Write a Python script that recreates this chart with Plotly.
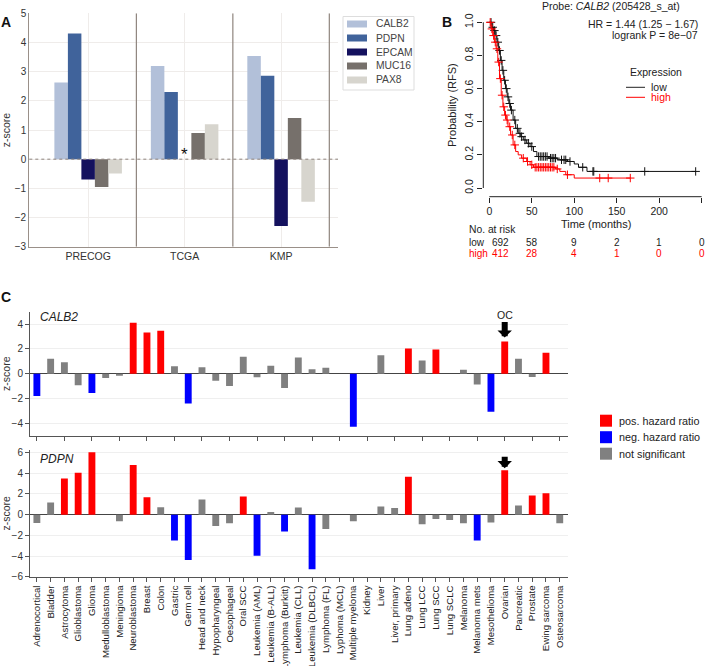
import numpy as np
import plotly.graph_objects as go

W, H = 709, 666
def fx(p): return p / W
def fy(p): return 1 - p / H

FONT = "Liberation Sans, Arial, Helvetica, sans-serif"

# ---------------- Panel A data ----------------
datasets = ["PRECOG", "TCGA", "KMP"]
genes_a = ["CALB2", "PDPN", "EPCAM", "MUC16", "PAX8"]
calb2_a = [2.63, 3.19, 3.54]
pdpn_a = [4.31, 2.30, 2.86]
epcam_a = [-0.70, 0.0, -2.29]
muc16_a = [-0.95, 0.90, 1.41]
pax8_a = [-0.49, 1.20, -1.46]
colors_a = ["#b2c0d9", "#40639b", "#14115e", "#76706b", "#d7d5ce"]

# ---------------- Panel B data (Kaplan-Meier) ----------------
km_low_t = [0, 3, 5, 7, 9, 11, 13, 15, 17, 19, 21, 23, 25, 28, 31, 34, 37, 40, 44, 48, 52, 56, 70, 80, 92, 100, 105, 115, 243]
km_low_s = [1.0, 0.97, 0.95, 0.92, 0.88, 0.83, 0.77, 0.71, 0.65, 0.60, 0.55, 0.51, 0.47, 0.41, 0.36, 0.33, 0.31, 0.29, 0.27, 0.25, 0.22, 0.19, 0.18, 0.17, 0.16, 0.145, 0.125, 0.10, 0.10]
km_high_t = [0, 2, 4, 6, 8, 10, 12, 14, 16, 18, 20, 22, 25, 28, 31, 34, 38, 44, 48, 52, 78, 83, 90, 100, 166]
km_high_s = [1.0, 0.96, 0.92, 0.88, 0.84, 0.76, 0.66, 0.56, 0.49, 0.44, 0.41, 0.37, 0.32, 0.26, 0.22, 0.20, 0.18, 0.16, 0.14, 0.125, 0.115, 0.10, 0.08, 0.06, 0.06]
cens_low = [2, 4, 6, 8, 10, 12, 14, 16, 18, 20, 22, 24, 26, 30, 33, 36, 38, 42, 46, 50, 58, 60, 62, 64, 66, 68, 72, 74, 76, 78, 85, 88, 90, 95, 110, 122, 123, 183, 243]
cens_high = [1, 3, 5, 7, 9, 11, 13, 15, 17, 19, 21, 24, 27, 30, 40, 45, 50, 54, 56, 58, 60, 62, 64, 66, 68, 70, 72, 74, 76, 80, 92, 130, 140, 166]
risk_times = [0, 50, 100, 150, 200, 250]
risk_low = [692, 58, 9, 2, 1, 0]
risk_high = [412, 28, 4, 1, 0, 0]

# ---------------- Panel C data ----------------
cancers = ["Adrenocortical", "Bladder", "Astrocytoma", "Glioblastoma", "Glioma", "Medulloblastoma",
           "Meningioma", "Neuroblastoma", "Breast", "Colon", "Gastric", "Germ cell", "Head and neck",
           "Hypopharyngeal", "Oesophageal", "Oral SCC", "Leukemia (AML)", "Leukemia (B-ALL)",
           "Lymphoma (Burkitt)", "Leukemia (CLL)", "Leukemia (DLBCL)", "Lymphoma (FL)", "Lyphoma (MCL)",
           "Multiple myeloma", "Kidney", "Liver", "Liver, primary", "Lung adeno", "Lung LCC", "Lung SCC",
           "Lung SCLC", "Melanoma", "Melanoma mets", "Mesothelioma", "Ovarian", "Pancreatic", "Prostate",
           "Ewing sarcoma", "Osteosarcoma"]
calb2_z = [-1.79, 1.20, 0.93, -0.93, -1.55, -0.35, -0.16, 4.10, 3.33, 3.47, 0.60, -2.40, 0.53,
           -0.56, -1.00, 1.36, -0.29, 0.64, -1.15, 1.31, 0.35, 0.48, 0.0,
           -4.27, 0.0, 1.49, 0.0, 2.03, 1.07, 1.95,
           0.0, 0.32, -0.88, -3.07, 2.59, 1.20, -0.27, 1.68, 0.0]
calb2_sig = ["neg", "ns", "ns", "ns", "neg", "ns", "ns", "pos", "pos", "pos", "ns", "neg", "ns",
             "ns", "ns", "ns", "ns", "ns", "ns", "ns", "ns", "ns", "ns",
             "neg", "ns", "ns", "ns", "pos", "ns", "pos",
             "ns", "ns", "ns", "neg", "pos", "ns", "ns", "pos", "ns"]
pdpn_z = [-0.81, 1.17, 3.50, 4.06, 6.04, 0.0, -0.65, 4.80, 1.69, 0.71, -2.50, -4.39, 1.46,
          -1.10, -0.84, 1.75, -3.97, 0.26, -1.62, 0.68, -5.29, -1.40, 0.0,
          -0.65, 0.0, 0.78, 0.65, 3.67, -0.94, -0.42,
          -0.52, -0.84, -2.50, -0.75, 4.29, 0.88, 1.85, 2.08, -0.84]
pdpn_sig = ["ns", "ns", "pos", "pos", "pos", "ns", "ns", "pos", "pos", "ns", "neg", "neg", "ns",
            "ns", "ns", "pos", "neg", "ns", "neg", "ns", "neg", "ns", "ns",
            "ns", "ns", "ns", "ns", "pos", "ns", "ns",
            "ns", "ns", "neg", "ns", "pos", "ns", "pos", "pos", "ns"]
sig_keys = ["pos", "neg", "ns"]
sig_labels = ["pos. hazard ratio", "neg. hazard ratio", "not significant"]
sig_colors = ["#ff0000", "#0000ff", "#808080"]
marked_cancer = "Ovarian"

fig = go.Figure()

# ---- Panel A bars ----
for g, vals, c in zip(genes_a, [calb2_a, pdpn_a, epcam_a, muc16_a, pax8_a], colors_a):
    fig.add_trace(go.Bar(x=datasets, y=vals, name=g, marker=dict(color=c, line=dict(width=0)),
                         xaxis="x", yaxis="y"))

# ---- Panel B KM ----
def surv_at(ts, ss, t):
    idx = np.searchsorted(np.array(ts), t, side="right") - 1
    return float(np.array(ss)[max(idx, 0)])

for ts, ss, cens, col in [(km_low_t, km_low_s, cens_low, "#111111"), (km_high_t, km_high_s, cens_high, "#ff0000")]:
    fig.add_trace(go.Scatter(x=ts, y=ss, mode="lines", line=dict(color=col, width=1, shape="hv"),
                             xaxis="x2", yaxis="y2", hoverinfo="skip"))
    fig.add_trace(go.Scatter(x=cens, y=[surv_at(ts, ss, t) for t in cens], mode="markers",
                             marker=dict(symbol="cross-thin-open", size=6, color=col, line=dict(color=col, width=1)),
                             xaxis="x2", yaxis="y2"))

# ---- Panel C bars ----
for zs, sigs, xa, ya in [(calb2_z, calb2_sig, "x3", "y3"), (pdpn_z, pdpn_sig, "x4", "y4")]:
    for k, lab, col in zip(sig_keys, sig_labels, sig_colors):
        xs = [c for c, s in zip(cancers, sigs) if s == k]
        ys = [z for z, s in zip(zs, sigs) if s == k]
        fig.add_trace(go.Bar(x=xs, y=ys, name=lab, marker=dict(color=col, line=dict(width=0)),
                             width=0.5, offset=-0.25, xaxis=xa, yaxis=ya))

tickfont = dict(family=FONT, size=10, color="#333333")
axcol_a = "#9a9089"

layout = dict(
    width=W, height=H, margin=dict(l=0, r=0, t=0, b=0, autoexpand=False),
    paper_bgcolor="white", plot_bgcolor="white", showlegend=False,
    font=dict(family=FONT, size=10, color="#333333"),
    barmode="group", bargap=0.3, bargroupgap=0,
    # Panel A
    xaxis=dict(domain=[fx(29.3), fx(338)], type="category", range=[-0.61, 2.59],
               showline=True, linecolor=axcol_a, linewidth=1.2, showgrid=True, gridcolor="#efecea",
               ticks="", tickfont=dict(family=FONT, size=10.5, color="#333"), anchor="y"),
    yaxis=dict(domain=[fy(246.7), fy(13.3)], range=[-3, 5], dtick=1, showline=True, linecolor=axcol_a,
               linewidth=1.2, showgrid=True, gridcolor="#efecea", zeroline=False, ticks="",
               tickfont=tickfont, anchor="x",
               title=dict(text="z-score", font=dict(family=FONT, size=10.5, color="#333"), standoff=6)),
    # Panel B
    xaxis2=dict(domain=[fx(483.3), fx(709)], range=[-7.1, 258.7], anchor="y2", showline=False,
                showgrid=False, zeroline=False, tickvals=risk_times, ticks="outside", ticklen=5,
                tickcolor="#222", tickfont=dict(family=FONT, size=10.5, color="#222"),
                title=dict(text="Time (months)", font=dict(family=FONT, size=11, color="#222"), standoff=4)),
    yaxis2=dict(domain=[fy(196.7), fy(13.5)], range=[-0.0525, 1.0531], anchor="x2", showline=False,
                showgrid=False, zeroline=False, tickvals=[0, 0.2, 0.4, 0.6, 0.8, 1.0], tickformat=".1f",
                ticks="outside", ticklen=5, tickcolor="#222", tickangle=-90,
                tickfont=dict(family=FONT, size=10.5, color="#222"),
                title=dict(text="Probability (RFS)", font=dict(family=FONT, size=11, color="#222"), standoff=4)),
    # Panel C top
    xaxis3=dict(domain=[fx(30), fx(568)], type="category", categoryorder="array", categoryarray=cancers,
                range=[-0.5, 38.6], anchor="y3", showline=True, linecolor="#555", linewidth=1,
                ticks="outside", ticklen=4, tickcolor="#555", showticklabels=False, showgrid=False),
    yaxis3=dict(domain=[fy(435.7), fy(311.7)], range=[-5, 5], dtick=2, anchor="x3", showline=True,
                linecolor="#555", ticks="outside", ticklen=4, tickcolor="#555", showgrid=True,
                gridcolor="#efefef", zeroline=True, zerolinecolor="#444", zerolinewidth=1,
                tickfont=tickfont,
                title=dict(text="z-score", font=dict(family=FONT, size=10.5, color="#333"), standoff=4)),
    # Panel C bottom
    xaxis4=dict(domain=[fx(30), fx(568)], type="category", categoryorder="array", categoryarray=cancers,
                range=[-0.5, 38.6], anchor="y4", showline=True, linecolor="#555", linewidth=1,
                ticks="outside", ticklen=4, tickcolor="#555", tickangle=-90, showgrid=False,
                tickfont=dict(family=FONT, size=9.6, color="#222")),
    yaxis4=dict(domain=[fy(576.7), fy(450)], range=[-6, 6.25], dtick=2, anchor="x4", showline=True,
                linecolor="#555", ticks="outside", ticklen=4, tickcolor="#555", showgrid=True,
                gridcolor="#efefef", zeroline=True, zerolinecolor="#444", zerolinewidth=1,
                tickfont=tickfont,
                title=dict(text="z-score", font=dict(family=FONT, size=10.5, color="#333"), standoff=4)),
)
fig.update_layout(**layout)

shapes = []
annotations = []

def ptext(xp, yp, text, size=10.5, color="#222", xanchor="center"):
    annotations.append(dict(x=fx(xp), y=fy(yp), xref="paper", yref="paper", text=text, showarrow=False,
                            xanchor=xanchor, yanchor="middle", font=dict(family=FONT, size=size, color=color)))

# Panel A separators and dotted zero line
for i in range(len(datasets)):
    shapes.append(dict(type="line", xref="x", yref="y", x0=i + 0.5, x1=i + 0.5, y0=-3, y1=5,
                       line=dict(color="#8f857e", width=1.2)))
shapes.append(dict(type="line", xref="x domain", yref="y", x0=0, x1=1, y0=0, y1=0,
                   line=dict(color="#8f857e", width=1, dash="dot")))
annotations.append(dict(x="TCGA", y=0, xref="x", yref="y", text="*", showarrow=False,
                        xanchor="center", yanchor="bottom", yshift=-7,
                        font=dict(family=FONT, size=17, color="#111")))

# Panel A legend (box)
shapes.append(dict(type="rect", xref="paper", yref="paper", x0=fx(343), x1=fx(414), y0=fy(90), y1=fy(16.5),
                   line=dict(color="#dddddd", width=1), fillcolor="white"))
for i, (g, c) in enumerate(zip(genes_a, colors_a)):
    yc = 24 + i * 14
    shapes.append(dict(type="rect", xref="paper", yref="paper", x0=fx(347), x1=fx(367),
                       y0=fy(yc + 3.5), y1=fy(yc - 3.5), line=dict(width=0), fillcolor=c))
    ptext(374, yc, g, size=10.3, color="#444", xanchor="left")

# Panel B axis lines (R style)
shapes.append(dict(type="line", xref="x2", yref="paper", x0=risk_times[0], x1=risk_times[-1],
                   y0=fy(196.7), y1=fy(196.7), line=dict(color="#222", width=1)))
shapes.append(dict(type="line", xref="paper", yref="y2", x0=fx(483.3), x1=fx(483.3), y0=0, y1=1,
                   line=dict(color="#222", width=1)))
ptext(611, 6, "Probe: <i>CALB2</i> (205428_s_at)")
ptext(700, 24.3, "HR = 1.44 (1.25 − 1.67)", xanchor="right")
ptext(700, 34.8, "logrank P = 8e−07", xanchor="right")
ptext(628, 71.7, "Expression", xanchor="left")
for lab, col, yc in [("low", "#222", 87.3), ("high", "#ff0000", 97.3)]:
    shapes.append(dict(type="line", xref="paper", yref="paper", x0=fx(626), x1=fx(645), y0=fy(yc), y1=fy(yc),
                       line=dict(color=col, width=1)))
    ptext(649, yc, lab, color=col, xanchor="left")
# Numbers at risk
ptext(467, 229.3, "No. at risk", size=10.3, xanchor="left")
for lab, vals, col, yc in [("low", risk_low, "#222", 242.7), ("high", risk_high, "#ff0000", 253)]:
    ptext(467, yc, lab, size=10, color=col, xanchor="left")
    for j, (t, n) in enumerate(zip(risk_times, vals)):
        annotations.append(dict(x=t, y=fy(yc), xref="x2", yref="paper", showarrow=False,
                                xanchor="center", yanchor="middle",
                                xshift=11 if j == 0 else 0, text=str(n),
                                font=dict(family=FONT, size=10, color=col)))

# Panel C legend (manual)
for i, (lab, col) in enumerate(zip(sig_labels, sig_colors)):
    yc = 420.7 + i * 16.5
    shapes.append(dict(type="rect", xref="paper", yref="paper", x0=fx(600), x1=fx(612),
                       y0=fy(yc + 6), y1=fy(yc - 6), line=dict(width=0), fillcolor=col))
    ptext(617, yc, lab, size=10.8, xanchor="left")

# Panel C labels and arrows
ptext(38, 316.7, "<i>CALB2</i>", size=12, xanchor="left")
ptext(38, 459, "<i>PDPN</i>", size=12, xanchor="left")
oc_i = cancers.index(marked_cancer)
annotations.append(dict(x=marked_cancer, y=calb2_z[oc_i], xref="x3", yref="y3", text="OC", showarrow=True,
                        ax=0, ay=-27, arrowhead=1, arrowsize=0.4, arrowwidth=6, arrowcolor="black",
                        standoff=4, font=dict(family=FONT, size=10.5, color="#222")))
annotations.append(dict(x=marked_cancer, y=pdpn_z[oc_i], xref="x4", yref="y4", text="", showarrow=True,
                        ax=0, ay=-15, arrowhead=1, arrowsize=0.4, arrowwidth=6, arrowcolor="black",
                        standoff=2))

# Panel letters
for letter, xp, yp in [("A", 6, 22), ("B", 447, 22), ("C", 6, 297)]:
    ptext(xp, yp, f"<b>{letter}</b>", size=14, color="#111")

fig.update_layout(shapes=shapes, annotations=annotations)
fig.write_html("out.html", config={"displayModeBar": False},
               post_script="document.body.style.margin='0px';document.body.style.overflow='hidden';")
